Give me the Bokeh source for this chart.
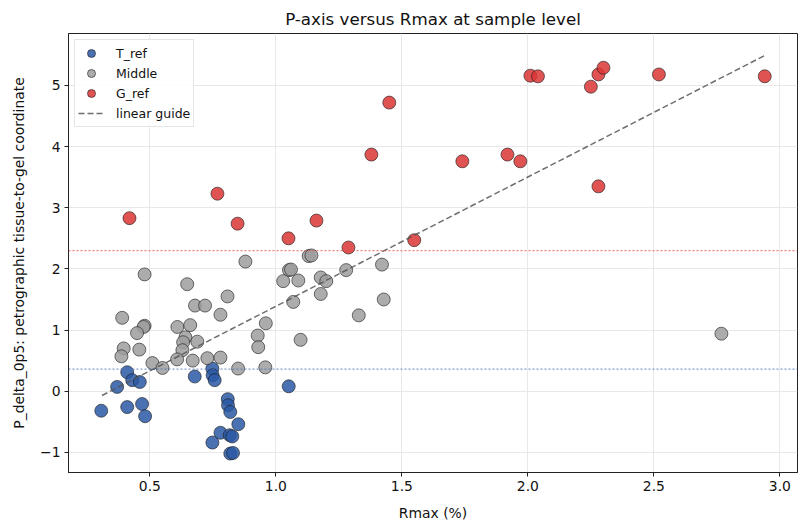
from bokeh.plotting import figure
from bokeh.models import Span, Legend, LegendItem, FixedTicker, NumeralTickFormatter
from bokeh.embed import file_html
from bokeh.resources import INLINE

# ---- data ----
t_ref_x = [0.307, 0.37, 0.41, 0.43, 0.46, 0.41, 0.469, 0.481, 0.678, 0.748, 0.749, 0.757,
           0.809, 0.81, 0.819, 0.851, 0.78, 0.817, 0.827, 0.748, 0.819, 0.83, 1.051]
t_ref_y = [-0.32, 0.07, 0.31, 0.18, 0.15, -0.26, -0.21, -0.41, 0.24, 0.37, 0.26, 0.18,
           -0.13, -0.23, -0.34, -0.54, -0.68, -0.72, -0.74, -0.84, -1.02, -1.01, 0.08]

middle_x = [0.479, 0.879, 0.648, 0.679, 0.719, 0.808, 0.780, 0.96, 0.39, 0.479, 0.475, 0.449,
            0.609, 0.66, 0.641, 0.632, 0.629, 0.688, 0.396, 0.458, 0.387, 0.51, 0.55, 0.608,
            0.67, 0.728, 0.78, 0.928, 0.93, 0.85, 0.958, 1.13, 1.141, 1.052, 1.06, 1.029,
            1.089, 1.178, 1.20, 1.279, 1.421, 1.178, 1.069, 1.428, 1.329, 1.098, 2.768]
middle_y = [1.91, 2.12, 1.75, 1.40, 1.40, 1.55, 1.25, 1.11, 1.20, 1.07, 1.05, 0.95,
            1.05, 1.08, 0.88, 0.80, 0.67, 0.81, 0.70, 0.68, 0.57, 0.46, 0.38, 0.52,
            0.50, 0.54, 0.55, 0.91, 0.72, 0.37, 0.39, 2.21, 2.22, 1.98, 1.99, 1.80,
            1.81, 1.86, 1.80, 1.98, 2.07, 1.59, 1.46, 1.50, 1.24, 0.84, 0.94]

g_ref_x = [0.419, 0.768, 0.848, 1.05, 1.161, 1.288, 1.379, 1.450, 1.549, 1.740, 1.919,
           1.970, 2.01, 2.04, 2.250, 2.28, 2.30, 2.28, 2.52, 2.94]
g_ref_y = [2.83, 3.23, 2.74, 2.50, 2.79, 2.35, 3.87, 4.72, 2.47, 3.76, 3.87,
           3.76, 5.16, 5.15, 4.98, 5.18, 5.29, 3.35, 5.18, 5.15]

guide_x = [0.31, 2.94]
guide_y = [-0.07, 5.49]

g_threshold = 2.30
t_threshold = 0.36

x_ticks = [0.5, 1.0, 1.5, 2.0, 2.5, 3.0]
y_ticks = [-1, 0, 1, 2, 3, 4, 5]

FONT = "DejaVu Sans"

p = figure(width=798, height=529, output_backend="svg", toolbar_location=None,
           x_range=(0.177, 3.07), y_range=(-1.33, 5.85),
           title="P-axis versus Rmax at sample level",
           x_axis_label="Rmax (%)",
           y_axis_label="P_delta_0p5: petrographic tissue-to-gel coordinate")

p.min_border_left = 68
p.min_border_right = 1
p.min_border_top = 33
p.min_border_bottom = 57

p.title.align = "center"
p.title.text_font = FONT
p.title.text_font_size = "16.7px"
p.title.text_font_style = "normal"
p.title.text_color = "#111111"

p.outline_line_color = "#222222"
p.outline_line_width = 1
p.background_fill_color = "white"
p.border_fill_color = "white"

for ax in (p.xaxis[0], p.yaxis[0]):
    ax.axis_label_text_font = FONT
    ax.axis_label_text_font_size = "13.9px"
    ax.axis_label_text_font_style = "normal"
    ax.axis_label_text_color = "#111111"
    ax.major_label_text_font = FONT
    ax.major_label_text_font_size = "13.9px"
    ax.major_label_text_color = "#111111"
    ax.minor_tick_line_color = None
    ax.major_tick_out = 4
    ax.major_tick_in = 0
    ax.axis_line_color = "#222222"
    ax.major_tick_line_color = "#222222"
    ax.major_label_standoff = 4

p.xaxis.ticker = FixedTicker(ticks=x_ticks)
p.yaxis.ticker = FixedTicker(ticks=y_ticks)
p.xaxis.formatter = NumeralTickFormatter(format="0.0")
p.yaxis.major_label_overrides = {-1: "\u22121"}
p.xaxis.axis_label_standoff = 11
p.yaxis.axis_label_standoff = 10

p.xgrid.ticker = FixedTicker(ticks=x_ticks)
p.ygrid.ticker = FixedTicker(ticks=y_ticks)
p.grid.grid_line_color = "#e8e8e8"
p.grid.grid_line_width = 1

p.add_layout(Span(location=g_threshold, dimension="width", line_color="#e04a4a",
                  line_dash="2 2", line_width=1.3, line_alpha=0.7))
p.add_layout(Span(location=t_threshold, dimension="width", line_color="#4a74bd",
                  line_dash="2 2", line_width=1.3, line_alpha=0.7))

r_t = p.scatter(t_ref_x, t_ref_y, size=13, fill_color="#2a58a4", fill_alpha=0.85,
                line_color="#1a1a1a", line_alpha=0.75, line_width=0.8)
r_m = p.scatter(middle_x, middle_y, size=13, fill_color="#9e9e9e", fill_alpha=0.85,
                line_color="#1a1a1a", line_alpha=0.75, line_width=0.8)
r_g = p.scatter(g_ref_x, g_ref_y, size=13, fill_color="#db3535", fill_alpha=0.85,
                line_color="#1a1a1a", line_alpha=0.75, line_width=0.8)
r_l = p.line(guide_x, guide_y, line_color="#555555", line_alpha=0.85, line_width=1.5,
             line_dash="6 3")

legend = Legend(items=[LegendItem(label="T_ref", renderers=[r_t]),
                       LegendItem(label="Middle", renderers=[r_m]),
                       LegendItem(label="G_ref", renderers=[r_g]),
                       LegendItem(label="linear guide", renderers=[r_l])],
                location="top_left")
legend.label_text_font = FONT
legend.label_text_font_size = "12.5px"
legend.label_text_color = "#111111"
legend.glyph_width = 26
legend.glyph_height = 20
legend.label_height = 19
legend.spacing = 0
legend.padding = 3
legend.margin = 6
legend.label_standoff = 12
legend.border_line_color = "#cccccc"
legend.border_line_width = 1
legend.background_fill_alpha = 0.85
p.add_layout(legend)

open("out.html", "w").write(file_html(p, INLINE))
